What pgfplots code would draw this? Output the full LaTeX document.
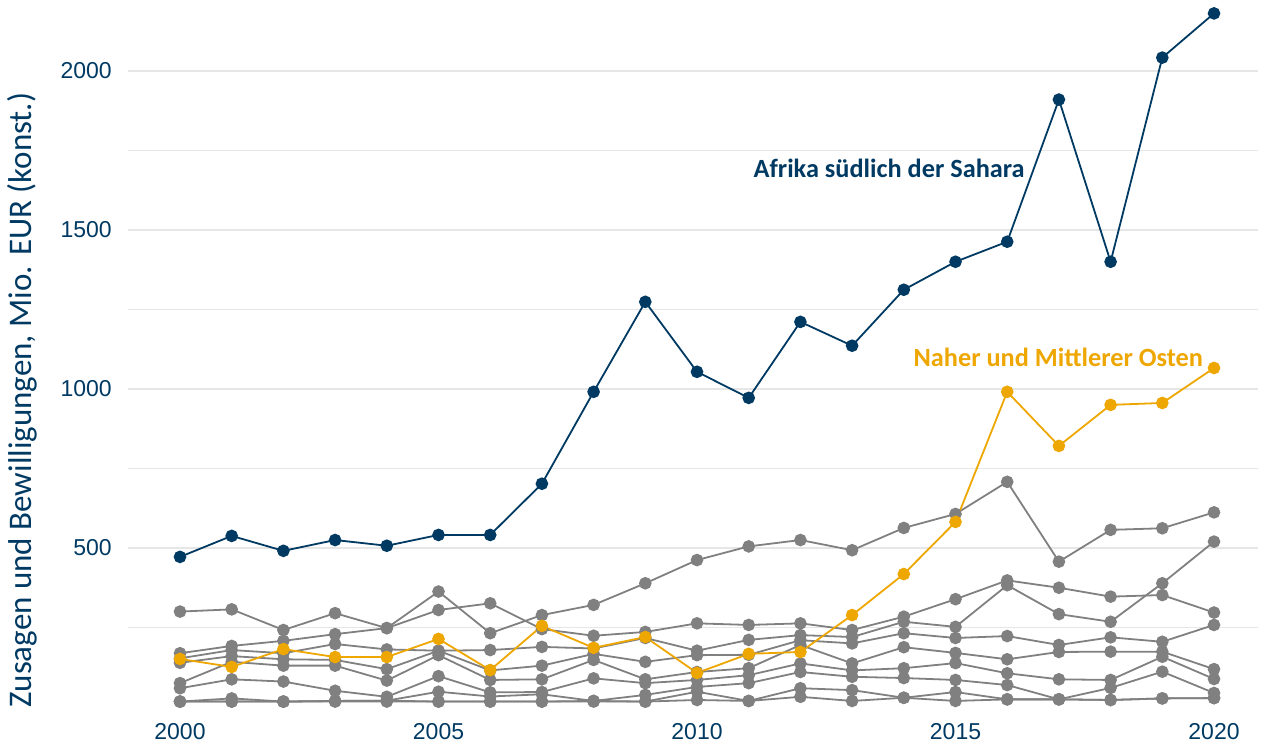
\documentclass[border=0pt]{standalone}
\usepackage{pgfplots}
\pgfplotsset{compat=1.18}
\usepackage{pgfplotstable}
\usepackage{fontspec}
\setmainfont{Liberation Sans}
\newfontfamily\carlito{Carlito}
\definecolor{cblue}{RGB}{0,58,99}
\definecolor{corange}{RGB}{238,166,0}
\definecolor{cgrey}{RGB}{128,128,128}
\definecolor{cgrid}{RGB}{230,230,230}
\pgfplotstableread{
year g1 g2 g3 g4 g5 g6 g7 g8 g9
2000 300 169 153 139 75 59 17 17 17
2001 307 192 179 160 142 87 27 17 17
2002 242 208 169 150 130 80 17 17 17
2003 295 229 198 148 130 51 19 19 17
2004 248 248 181 119 83 32 20 20 17
2005 363 305 177 177 163 97 48 17 17
2006 232 326 179 115 85 46 33 17 17
2007 289 245 189 130 87 47 40 17 17
2008 321 224 184 167 148 90 19 19 17
2009 389 236 217 142 87 75 38 17 17
2010 462 263 177 163 110 85 63 48 22
2011 505 258 211 164 122 100 75 19 19
2012 525 263 226 210 195 137 110 59 32
2013 493 242 220 200 137 115 95 53 19
2014 563 284 268 232 188 122 91 29 29
2015 607 339 252 217 170 138 85 47 19
2016 708 398 383 223 150 106 69 24 24
2017 457 375 292 195 173 87 24 24 24
2018 557 347 268 219 174 85 60 22 22
2019 562 352 389 205 174 158 111 27 27
2020 612 297 520 258 119 88 44 28 28
}\greys
\pgfplotstableread{
year v
2000 151
2001 126
2002 182
2003 157
2004 157
2005 214
2006 116
2007 255
2008 186
2009 220
2010 107
2011 167
2012 173
2013 289
2014 418
2015 582
2016 991
2017 821
2018 950
2019 956
2020 1066
}\naher
\pgfplotstableread{
year v
2000 472
2001 538
2002 491
2003 525
2004 507
2005 541
2006 541
2007 702
2008 991
2009 1274
2010 1054
2011 972
2012 1211
2013 1136
2014 1312
2015 1400
2016 1463
2017 1910
2018 1400
2019 2042
2020 2181
}\afrika
\begin{document}
\begin{tikzpicture}
\begin{axis}[
  scale only axis, width=1130pt, height=699pt,
  xmin=1998.994, xmax=2020.851, ymin=0, ymax=2198,
  clip=false,
  axis line style={draw=none}, tick style={draw=none},
  xtick={2000,2005,2010,2015,2020},
  ytick={500,1000,1500,2000},
  minor ytick={250,750,1250,1750},
  ymajorgrids, yminorgrids,
  major grid style={cgrid, line width=1.5pt},
  minor grid style={cgrid, line width=1.5pt},
  /pgf/number format/.cd, 1000 sep={}, assume math mode=true, /pgfplots/.cd,
  tick label style={font=\fontsize{23}{25}\selectfont, text=cblue, inner sep=0pt},
  yticklabel style={anchor=east, xshift=-16pt},
  xticklabel style={anchor=north, yshift=-16pt},
  ylabel={Zusagen und Bewilligungen, Mio. EUR (konst.)},
  ylabel style={font=\carlito\fontsize{33}{35}\selectfont, text=cblue, at={(axis description cs:-0.0938,0.439)}, anchor=center, rotate=0},
  every axis plot/.append style={line width=1.8pt, mark=*, mark size=5.4pt},
]
\foreach \c in {g1,g2,g3,g4,g5,g6,g7,g8,g9}{
  \addplot[cgrey, mark options={fill=cgrey, draw=cgrey}] table[x=year, y=\c] {\greys};
}
\addplot[corange, mark options={fill=corange, draw=corange}] table[x=year, y=v] {\naher};
\addplot[cblue, mark options={fill=cblue, draw=cblue}] table[x=year, y=v] {\afrika};
\node[anchor=base east, inner sep=0pt, text=cblue, font=\carlito\bfseries\fontsize{26.3}{28}\selectfont] at (axis cs:2016.34,1664) {Afrika südlich der Sahara};
\node[anchor=base east, inner sep=0pt, text=corange, font=\carlito\bfseries\fontsize{26.3}{28}\selectfont] at (axis cs:2019.79,1071) {Naher und Mittlerer Osten};
\coordinate (bl) at (rel axis cs:0,0);
\coordinate (tr) at (rel axis cs:1,1);
\end{axis}
\pgfresetboundingbox
\path ([shift={(-128pt,-40pt)}]bl) rectangle ([shift={(9pt,8pt)}]tr);
\end{tikzpicture}
\end{document}
